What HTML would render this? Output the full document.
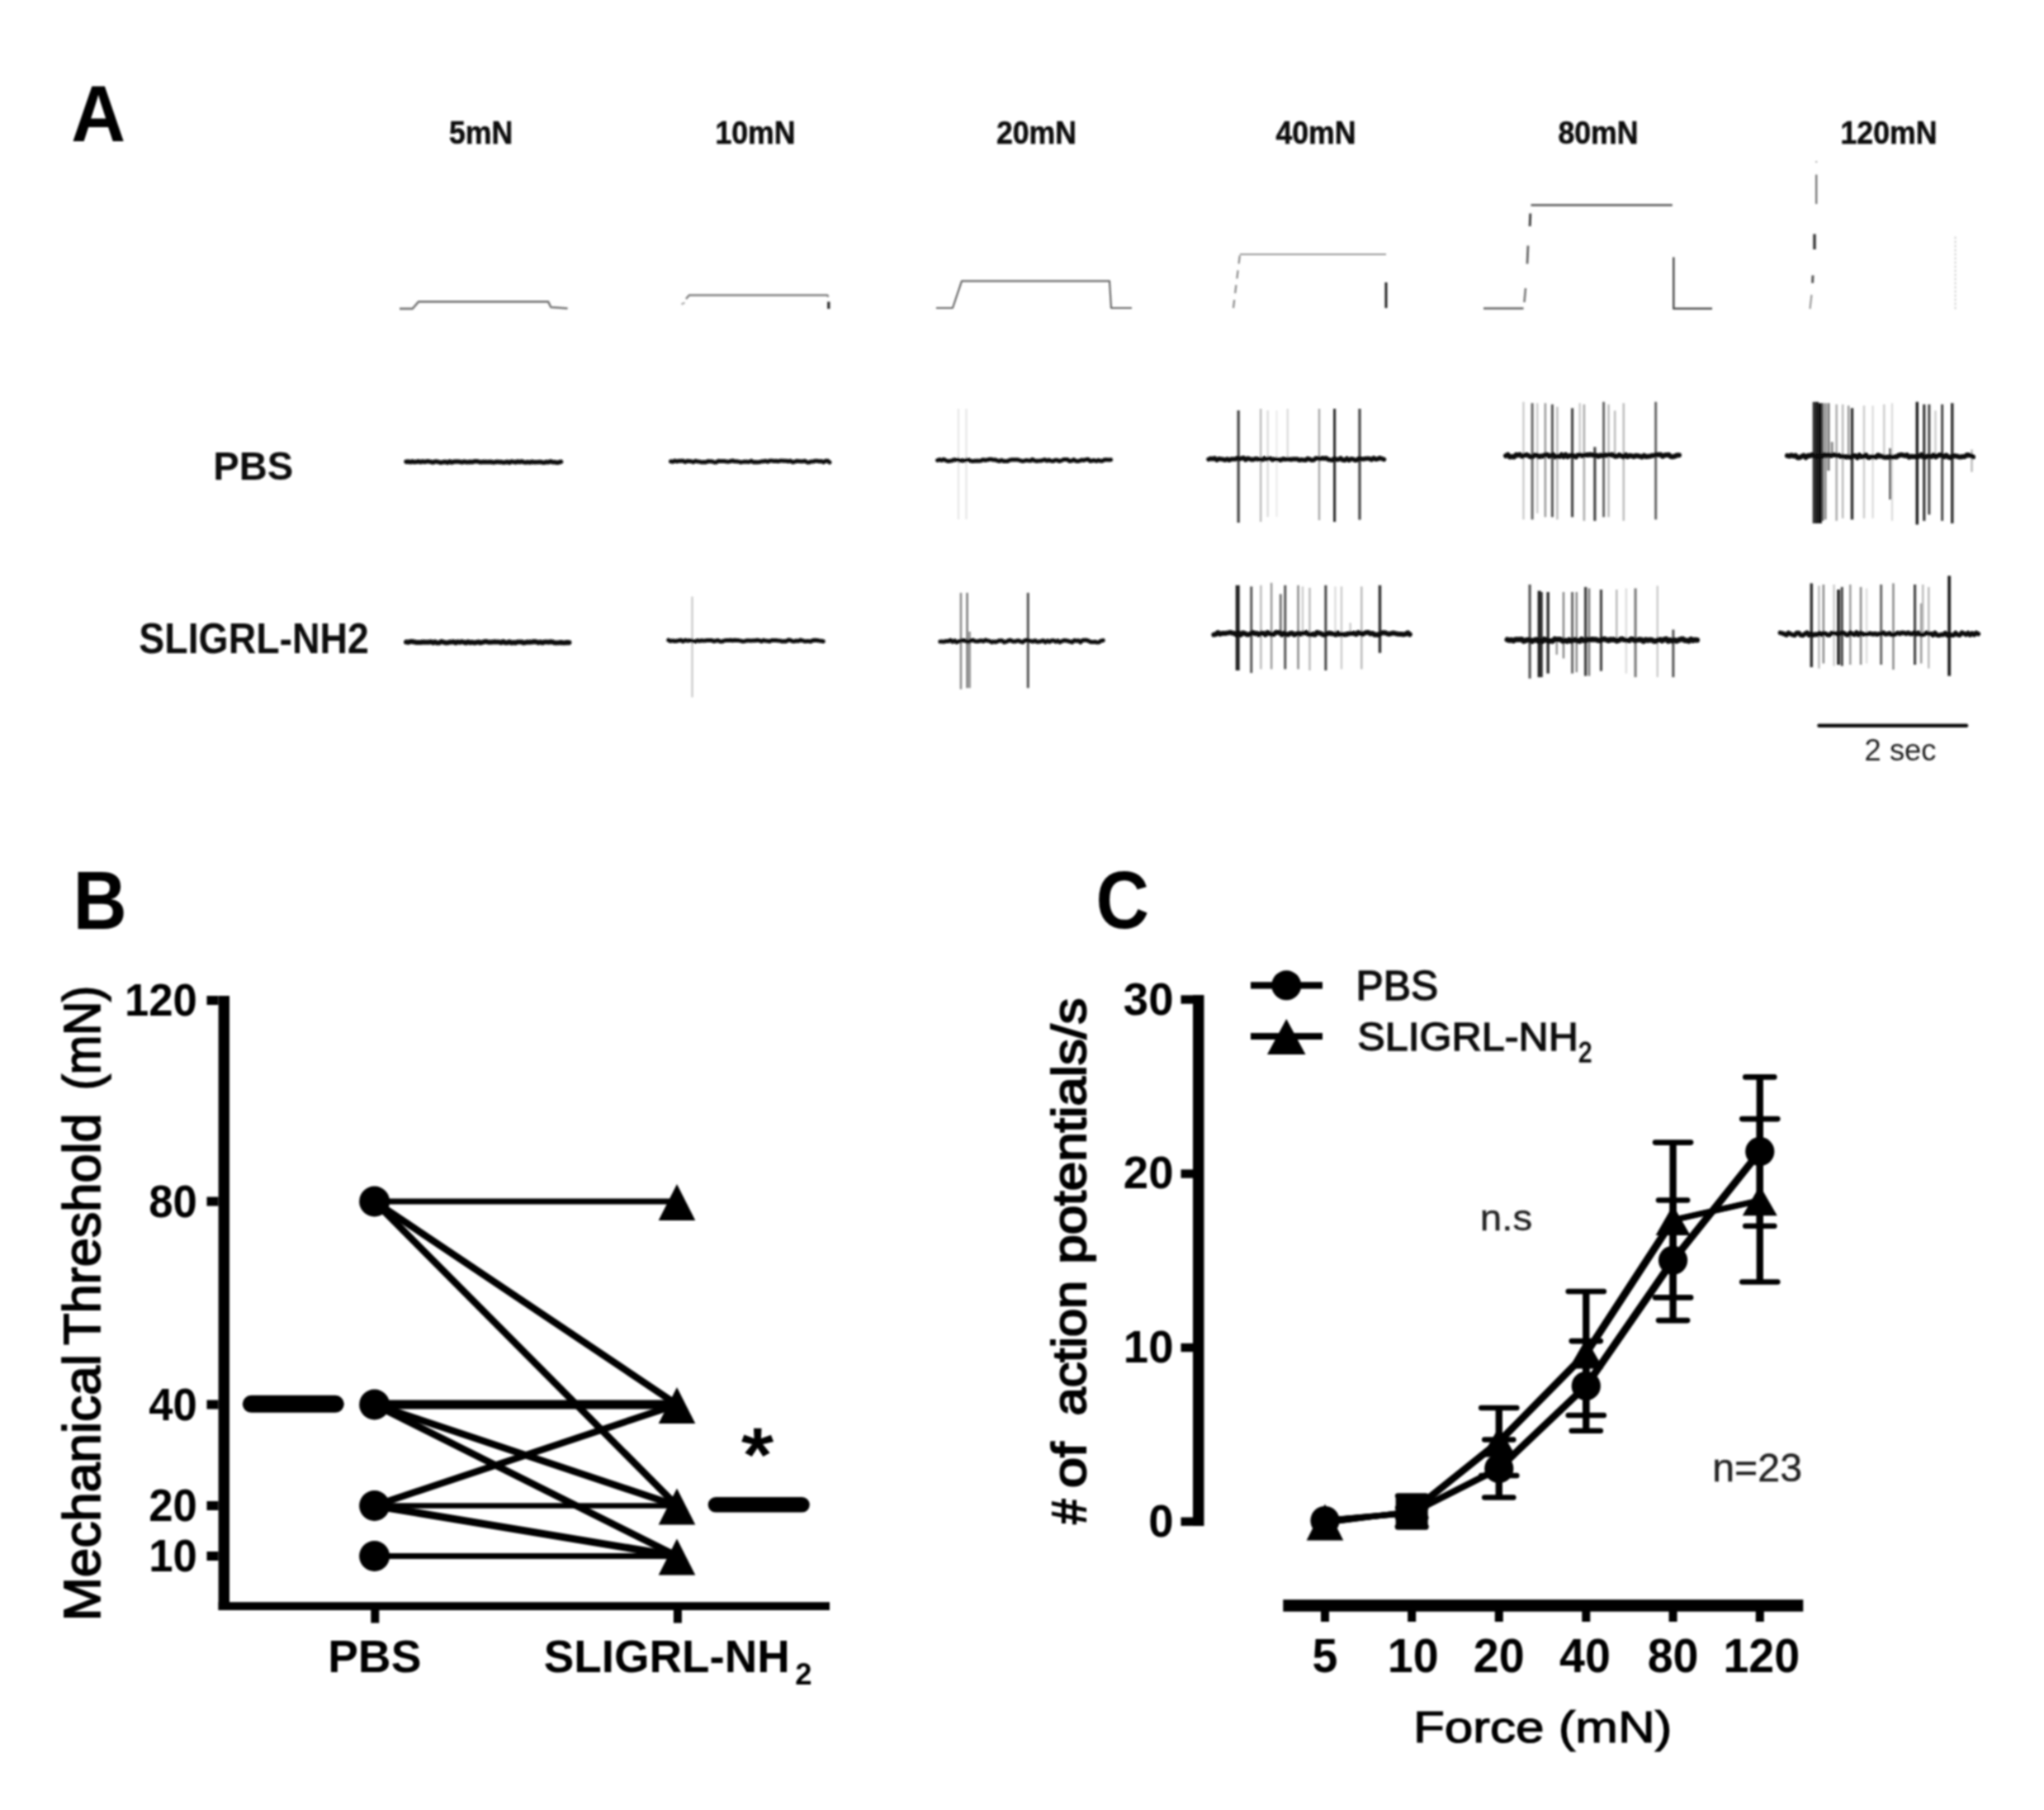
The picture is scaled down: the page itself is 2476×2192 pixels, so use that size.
<!DOCTYPE html>
<html><head><meta charset="utf-8"><title>Figure</title>
<style>html,body{margin:0;padding:0;background:#fff}svg{display:block}text{font-family:"Liberation Sans",Arial,sans-serif}</style>
</head><body>
<svg width="2476" height="2192" viewBox="0 0 2476 2192">
<defs><filter id="soft" x="0" y="0" width="2476" height="2192" filterUnits="userSpaceOnUse"><feGaussianBlur stdDeviation="1.3"/></filter></defs>
<rect width="2476" height="2192" fill="#fff"/>
<g filter="url(#soft)">
<text transform="translate(86.37,171.25) scale(0.9499,1)" font-size="96.00" font-weight="bold" fill="#000" >A</text>
<text transform="translate(543.98,173.56) scale(0.9088,1)" font-size="39.28" font-weight="bold" fill="#111" stroke="#111" stroke-width="0.6" >5mN</text>
<text transform="translate(915.00,173.56) scale(0.9088,1)" font-size="39.28" font-weight="bold" text-anchor="middle" fill="#111" stroke="#111" stroke-width="0.6">10mN</text>
<text transform="translate(1255.50,173.56) scale(0.9088,1)" font-size="39.28" font-weight="bold" text-anchor="middle" fill="#111" stroke="#111" stroke-width="0.6">20mN</text>
<text transform="translate(1594.00,173.56) scale(0.9088,1)" font-size="39.28" font-weight="bold" text-anchor="middle" fill="#111" stroke="#111" stroke-width="0.6">40mN</text>
<text transform="translate(1936.00,173.56) scale(0.9088,1)" font-size="39.28" font-weight="bold" text-anchor="middle" fill="#111" stroke="#111" stroke-width="0.6">80mN</text>
<text transform="translate(2288.00,173.56) scale(0.9088,1)" font-size="39.28" font-weight="bold" text-anchor="middle" fill="#111" stroke="#111" stroke-width="0.6">120mN</text>
<text transform="translate(258.17,581.17) scale(0.9789,1)" font-size="48.20" font-weight="bold" fill="#111" >PBS</text>
<text transform="translate(168.36,790.94) scale(0.9020,1)" font-size="51.45" font-weight="bold" fill="#111" >SLIGRL-NH2</text>
<text transform="translate(2258.53,921.09) scale(1.0063,1)" font-size="36.18" font-weight="normal" fill="#222" >2 sec</text>
<line x1="2203.5" y1="878.8" x2="2382" y2="878.8" stroke="#111" stroke-width="4.5" stroke-linecap="round"/>
<polyline points="484.0,373.9 499.7,373.9 507.0,365.4 664.1,365.4 667.3,372.0 687.6,373.5" fill="none" stroke="#777" stroke-width="2.6" stroke-linejoin="round"/>
<polyline points="825.4,368.5 829.5,366.5" fill="none" stroke="#aaa" stroke-width="2" stroke-linejoin="round"/>
<polyline points="831.0,362.0 834.8,357.6 1002.3,357.6 1003.5,359.5" fill="none" stroke="#808080" stroke-width="2.5" stroke-linejoin="round"/>
<polyline points="1003.8,365.4 1003.8,374.0" fill="none" stroke="#333" stroke-width="3.4" stroke-linejoin="round"/>
<polyline points="1134.0,373.0 1154.0,373.0 1165.0,340.3 1344.0,340.3 1346.0,373.0 1371.0,373.0" fill="none" stroke="#666" stroke-width="2.2" stroke-linejoin="round"/>
<polyline points="1494.0,373.0 1502.0,308.0" fill="none" stroke="#888" stroke-width="2.2" stroke-dasharray="10 8" stroke-linejoin="round"/>
<polyline points="1502.0,308.0 1679.0,308.0" fill="none" stroke="#999" stroke-width="2.2" stroke-linejoin="round"/>
<polyline points="1679.0,342.0 1679.0,373.0" fill="none" stroke="#222" stroke-width="3" stroke-linejoin="round"/>
<polyline points="1797.0,373.5 1845.5,373.5" fill="none" stroke="#666" stroke-width="2.6" stroke-linejoin="round"/>
<polyline points="1846.5,366.0 1848.0,349.0" fill="none" stroke="#777" stroke-width="2.6" stroke-linejoin="round"/>
<polyline points="1850.0,319.5 1851.0,297.5" fill="none" stroke="#666" stroke-width="2.8" stroke-linejoin="round"/>
<polyline points="1853.2,274.0 1853.8,258.5" fill="none" stroke="#444" stroke-width="3" stroke-linejoin="round"/>
<polyline points="1854.5,248.3 2025.8,248.3" fill="none" stroke="#666" stroke-width="2.8" stroke-linejoin="round"/>
<polyline points="2027.3,311.5 2027.3,373.8 2074.0,373.8" fill="none" stroke="#555" stroke-width="2.6" stroke-linejoin="round"/>
<polyline points="2200.2,195.0 2200.2,197.0" fill="none" stroke="#aaa" stroke-width="2" stroke-linejoin="round"/>
<polyline points="2200.2,211.5 2200.2,247.0" fill="none" stroke="#777" stroke-width="2.4" stroke-linejoin="round"/>
<polyline points="2198.0,283.5 2198.0,302.0" fill="none" stroke="#333" stroke-width="3.4" stroke-linejoin="round"/>
<polyline points="2196.0,333.5 2195.6,342.8" fill="none" stroke="#555" stroke-width="3" stroke-linejoin="round"/>
<polyline points="2194.5,357.0 2192.5,374.0" fill="none" stroke="#999" stroke-width="2.2" stroke-linejoin="round"/>
<polyline points="2368.6,286.5 2368.6,375.5" fill="none" stroke="#d4d4d4" stroke-width="2" stroke-dasharray="3 2" stroke-linejoin="round"/>
<polyline points="492.0,559.2 494.5,558.9 497.0,559.7 499.5,558.8 502.0,559.6 504.5,559.3 507.0,558.8 509.5,559.5 512.0,558.8 514.5,559.4 517.0,558.8 519.5,558.8 522.0,559.4 524.5,560.0 527.0,558.9 529.5,559.1 532.0,559.7 534.5,560.2 537.0,559.6 539.5,559.3 542.0,560.3 544.5,558.8 547.0,560.1 549.5,559.2 552.0,558.9 554.5,558.9 557.0,559.2 559.5,560.0 562.0,559.0 564.5,559.6 567.0,559.7 569.5,559.3 572.0,559.6 574.5,558.8 577.0,558.8 579.5,559.0 582.0,559.8 584.5,559.4 587.0,559.2 589.5,559.6 592.0,559.4 594.5,559.2 597.0,560.0 599.5,559.8 602.0,559.1 604.5,559.6 607.0,559.5 609.5,560.1 612.0,559.9 614.5,559.2 617.0,560.3 619.5,558.9 622.0,559.4 624.5,559.9 627.0,558.9 629.5,559.5 632.0,558.8 634.5,559.8 637.0,559.9 639.5,559.6 642.0,560.1 644.5,559.2 647.0,559.8 649.5,559.7 652.0,559.6 654.5,559.4 657.0,560.0 659.5,560.2 662.0,559.5 664.5,559.8 667.0,558.8 669.5,559.8 672.0,559.7 674.5,560.3 677.0,560.0 679.5,559.2" fill="none" stroke="#111" stroke-width="5.5" stroke-linecap="round" stroke-linejoin="round"/>
<polyline points="812.5,558.8 815.0,559.3 817.5,558.0 820.0,558.9 822.5,558.3 825.0,558.2 827.5,558.1 830.0,559.5 832.5,558.3 835.0,558.5 837.5,558.8 840.0,559.7 842.5,558.2 845.0,558.9 847.5,559.1 850.0,559.8 852.5,559.6 855.0,559.7 857.5,558.6 860.0,558.8 862.5,558.7 865.0,559.8 867.5,559.9 870.0,558.3 872.5,558.4 875.0,558.5 877.5,558.5 880.0,559.0 882.5,559.2 885.0,558.5 887.5,558.0 890.0,558.8 892.5,558.7 895.0,559.1 897.5,559.9 900.0,559.4 902.5,559.0 905.0,559.2 907.5,559.4 910.0,558.1 912.5,559.8 915.0,559.6 917.5,559.7 920.0,559.6 922.5,558.8 925.0,558.8 927.5,558.2 930.0,559.3 932.5,558.1 935.0,558.1 937.5,558.4 940.0,558.3 942.5,558.7 945.0,558.1 947.5,558.0 950.0,558.3 952.5,558.2 955.0,558.7 957.5,558.1 960.0,559.7 962.5,559.2 965.0,558.3 967.5,558.5 970.0,558.7 972.5,558.7 975.0,558.2 977.5,559.7 980.0,560.0 982.5,558.9 985.0,559.0 987.5,558.2 990.0,558.2 992.5,558.7 995.0,558.5 997.5,559.7 1000.0,558.3 1002.5,558.0 1005.0,559.9" fill="none" stroke="#111" stroke-width="5" stroke-linecap="round" stroke-linejoin="round"/>
<line x1="1161" y1="495" x2="1161" y2="629" stroke="#e8e8e8" stroke-width="2.5"/>
<line x1="1170.5" y1="495" x2="1170.5" y2="629" stroke="#e8e8e8" stroke-width="2.5"/>
<polyline points="1135.6,557.5 1138.1,556.6 1140.6,557.5 1143.1,556.3 1145.6,557.5 1148.1,558.5 1150.6,558.3 1153.1,557.9 1155.6,556.8 1158.1,557.1 1160.6,556.6 1163.1,558.1 1165.6,557.5 1168.1,558.1 1170.6,557.0 1173.1,556.7 1175.6,558.1 1178.1,558.6 1180.6,558.2 1183.1,558.1 1185.6,558.2 1188.1,558.0 1190.6,556.7 1193.1,557.4 1195.6,557.1 1198.1,556.3 1200.6,556.3 1203.1,556.9 1205.6,556.8 1208.1,557.9 1210.6,558.5 1213.1,557.3 1215.6,558.4 1218.1,558.6 1220.6,558.5 1223.1,557.1 1225.6,556.7 1228.1,556.7 1230.6,556.7 1233.1,556.7 1235.6,557.7 1238.1,558.4 1240.6,558.2 1243.1,557.4 1245.6,557.8 1248.1,558.1 1250.6,556.4 1253.1,557.8 1255.6,558.4 1258.1,558.1 1260.6,558.0 1263.1,557.3 1265.6,556.6 1268.1,558.1 1270.6,557.0 1273.1,558.1 1275.6,558.5 1278.1,557.2 1280.6,557.2 1283.1,558.5 1285.6,557.9 1288.1,556.6 1290.6,556.5 1293.1,556.6 1295.6,558.4 1298.1,558.1 1300.6,556.6 1303.1,558.2 1305.6,558.6 1308.1,557.8 1310.6,557.0 1313.1,557.5 1315.6,556.5 1318.1,556.2 1320.6,558.5 1323.1,557.8 1325.6,557.5 1328.1,558.4 1330.6,557.2 1333.1,558.3 1335.6,558.2 1338.1,556.7 1340.6,556.8 1343.1,556.9 1345.6,556.8" fill="none" stroke="#111" stroke-width="5" stroke-linecap="round" stroke-linejoin="round"/>
<line x1="1500.2" y1="497" x2="1500.2" y2="633" stroke="#444" stroke-width="3.2"/>
<line x1="1527.2" y1="495" x2="1527.2" y2="632" stroke="#bbb" stroke-width="2.5"/>
<line x1="1535.7" y1="497" x2="1535.7" y2="626" stroke="#ddd" stroke-width="2.5"/>
<line x1="1546.5" y1="497" x2="1546.5" y2="626" stroke="#eee" stroke-width="2.5"/>
<line x1="1559.8" y1="495" x2="1559.8" y2="556" stroke="#ddd" stroke-width="2.5"/>
<line x1="1598" y1="495" x2="1598" y2="630" stroke="#aaa" stroke-width="2.5"/>
<line x1="1616.6" y1="495" x2="1616.6" y2="632" stroke="#333" stroke-width="3.2"/>
<line x1="1647" y1="495" x2="1647" y2="629.5" stroke="#444" stroke-width="3.2"/>
<polyline points="1464.0,556.3 1466.5,555.3 1469.0,555.8 1471.5,554.9 1474.0,557.2 1476.5,555.6 1479.0,555.9 1481.5,556.3 1484.0,557.2 1486.5,555.8 1489.0,557.3 1491.5,556.0 1494.0,556.1 1496.5,556.1 1499.0,554.6 1501.5,555.8 1504.0,555.0 1506.5,554.5 1509.0,556.9 1511.5,555.0 1514.0,555.9 1516.5,556.7 1519.0,556.2 1521.5,555.5 1524.0,556.1 1526.5,556.2 1529.0,556.9 1531.5,554.8 1534.0,556.2 1536.5,555.2 1539.0,555.3 1541.5,556.8 1544.0,556.0 1546.5,556.2 1549.0,556.8 1551.5,557.2 1554.0,555.8 1556.5,556.3 1559.0,556.0 1561.5,556.0 1564.0,556.6 1566.5,555.9 1569.0,556.1 1571.5,555.9 1574.0,557.3 1576.5,556.6 1579.0,557.1 1581.5,557.3 1584.0,555.3 1586.5,556.2 1589.0,557.3 1591.5,557.0 1594.0,554.9 1596.5,554.9 1599.0,555.8 1601.5,554.7 1604.0,555.2 1606.5,554.7 1609.0,556.5 1611.5,556.9 1614.0,557.2 1616.5,555.0 1619.0,556.6 1621.5,556.5 1624.0,554.9 1626.5,557.1 1629.0,557.4 1631.5,555.2 1634.0,557.4 1636.5,555.7 1639.0,556.0 1641.5,557.5 1644.0,557.0 1646.5,555.0 1649.0,555.8 1651.5,556.0 1654.0,555.5 1656.5,555.1 1659.0,555.5 1661.5,556.7 1664.0,554.6 1666.5,556.2 1669.0,555.8 1671.5,554.6 1674.0,555.5 1676.5,556.4" fill="none" stroke="#111" stroke-width="5.5" stroke-linecap="round" stroke-linejoin="round"/>
<line x1="1845.5" y1="486.7" x2="1845.5" y2="629.2" stroke="#ccc" stroke-width="2.5"/>
<line x1="1856.1" y1="488.2" x2="1856.1" y2="629.2" stroke="#666" stroke-width="3"/>
<line x1="1862.2" y1="488.2" x2="1862.2" y2="621.7" stroke="#ccc" stroke-width="2.5"/>
<line x1="1871.9" y1="488.2" x2="1871.9" y2="626.2" stroke="#999" stroke-width="2.5"/>
<line x1="1880.4" y1="489.7" x2="1880.4" y2="626.2" stroke="#555" stroke-width="3"/>
<line x1="1886.4" y1="492.7" x2="1886.4" y2="629.2" stroke="#bbb" stroke-width="2.5"/>
<line x1="1904.6" y1="494.3" x2="1904.6" y2="626.2" stroke="#444" stroke-width="3.2"/>
<line x1="1913.7" y1="488.2" x2="1913.7" y2="554.9" stroke="#ccc" stroke-width="2.5"/>
<line x1="1918.9" y1="489.7" x2="1918.9" y2="630.8" stroke="#aaa" stroke-width="2.5"/>
<line x1="1931.9" y1="541.3" x2="1931.9" y2="630.8" stroke="#444" stroke-width="3.2"/>
<line x1="1942.6" y1="486.7" x2="1942.6" y2="626.2" stroke="#666" stroke-width="3"/>
<line x1="1948.6" y1="489.7" x2="1948.6" y2="626.2" stroke="#bbb" stroke-width="2.5"/>
<line x1="1956.2" y1="497.3" x2="1956.2" y2="551.9" stroke="#bbb" stroke-width="2.5"/>
<line x1="1966.8" y1="488.2" x2="1966.8" y2="630.8" stroke="#bbb" stroke-width="2.5"/>
<line x1="2005.7" y1="486.7" x2="2005.7" y2="629.2" stroke="#666" stroke-width="3"/>
<polyline points="1824.0,552.0 1826.5,550.6 1829.0,553.6 1831.5,552.9 1834.0,553.5 1836.5,550.7 1839.0,551.2 1841.5,550.5 1844.0,552.9 1846.5,551.3 1849.0,550.8 1851.5,551.8 1854.0,553.3 1856.5,553.0 1859.0,551.2 1861.5,550.9 1864.0,553.3 1866.5,552.2 1869.0,552.6 1871.5,550.7 1874.0,550.6 1876.5,552.6 1879.0,551.8 1881.5,550.6 1884.0,553.4 1886.5,552.4 1889.0,553.0 1891.5,550.7 1894.0,553.1 1896.5,550.6 1899.0,553.2 1901.5,551.9 1904.0,551.5 1906.5,552.2 1909.0,553.4 1911.5,551.3 1914.0,550.8 1916.5,552.1 1919.0,551.2 1921.5,550.8 1924.0,550.9 1926.5,550.6 1929.0,551.0 1931.5,551.4 1934.0,551.4 1936.5,552.8 1939.0,551.3 1941.5,552.0 1944.0,551.0 1946.5,551.5 1949.0,550.5 1951.5,551.2 1954.0,550.4 1956.5,552.7 1959.0,552.2 1961.5,551.0 1964.0,551.9 1966.5,553.4 1969.0,550.7 1971.5,553.0 1974.0,551.8 1976.5,552.0 1979.0,553.1 1981.5,551.7 1984.0,552.0 1986.5,552.6 1989.0,553.5 1991.5,551.5 1994.0,553.1 1996.5,552.7 1999.0,552.4 2001.5,551.7 2004.0,551.5 2006.5,550.6 2009.0,550.8 2011.5,550.6 2014.0,552.8 2016.5,551.2 2019.0,550.9 2021.5,550.7 2024.0,553.1 2026.5,553.2 2029.0,552.5 2031.5,551.3 2034.0,551.2" fill="none" stroke="#111" stroke-width="6" stroke-linecap="round" stroke-linejoin="round"/>
<line x1="2197.4" y1="486.7" x2="2197.4" y2="633.8" stroke="#333" stroke-width="3.5"/>
<line x1="2201.0" y1="486.7" x2="2201.0" y2="633.8" stroke="#222" stroke-width="4"/>
<line x1="2204.9" y1="488.2" x2="2204.9" y2="633.8" stroke="#111" stroke-width="4"/>
<line x1="2208.0" y1="488.2" x2="2208.0" y2="630.8" stroke="#555" stroke-width="2.4"/>
<line x1="2211.3" y1="488.2" x2="2211.3" y2="629.2" stroke="#777" stroke-width="2.2"/>
<line x1="2215.0" y1="488.2" x2="2215.0" y2="570.1" stroke="#777" stroke-width="3"/>
<line x1="2219.2" y1="535.2" x2="2219.2" y2="551.9" stroke="#888" stroke-width="3"/>
<line x1="2224.7" y1="489.7" x2="2224.7" y2="630.8" stroke="#aaa" stroke-width="2.5"/>
<line x1="2232.2" y1="489.7" x2="2232.2" y2="627.7" stroke="#bbb" stroke-width="2.5"/>
<line x1="2239.2" y1="491.2" x2="2239.2" y2="554.9" stroke="#999" stroke-width="2.5"/>
<line x1="2243.5" y1="494.3" x2="2243.5" y2="629.2" stroke="#333" stroke-width="3.5"/>
<line x1="2258.0" y1="491.2" x2="2258.0" y2="627.7" stroke="#ccc" stroke-width="2.5"/>
<line x1="2268.6" y1="491.2" x2="2268.6" y2="627.7" stroke="#ddd" stroke-width="2.5"/>
<line x1="2282.3" y1="489.7" x2="2282.3" y2="551.9" stroke="#ccc" stroke-width="2.5"/>
<line x1="2289.9" y1="542.8" x2="2289.9" y2="605.0" stroke="#444" stroke-width="3"/>
<line x1="2292.0" y1="488.2" x2="2292.0" y2="630.8" stroke="#ddd" stroke-width="2.5"/>
<line x1="2322.3" y1="486.7" x2="2322.3" y2="635.3" stroke="#222" stroke-width="3.5"/>
<line x1="2330.8" y1="489.7" x2="2330.8" y2="630.8" stroke="#333" stroke-width="3.2"/>
<line x1="2336.9" y1="489.7" x2="2336.9" y2="623.2" stroke="#444" stroke-width="3"/>
<line x1="2344.5" y1="497.3" x2="2344.5" y2="551.9" stroke="#ccc" stroke-width="2.5"/>
<line x1="2352.7" y1="489.7" x2="2352.7" y2="630.8" stroke="#444" stroke-width="3"/>
<line x1="2364.8" y1="488.2" x2="2364.8" y2="633.8" stroke="#333" stroke-width="3.5"/>
<line x1="2388.5" y1="544.3" x2="2388.5" y2="571.6" stroke="#bbb" stroke-width="2.5"/>
<polyline points="2165.0,551.8 2167.5,552.4 2170.0,551.3 2172.5,552.3 2175.0,551.6 2177.5,554.2 2180.0,554.2 2182.5,552.7 2185.0,551.6 2187.5,554.2 2190.0,551.8 2192.5,552.0 2195.0,550.7 2197.5,552.1 2200.0,552.4 2202.5,552.5 2205.0,551.4 2207.5,552.5 2210.0,550.7 2212.5,551.7 2215.0,551.0 2217.5,552.1 2220.0,550.9 2222.5,550.8 2225.0,551.8 2227.5,551.5 2230.0,552.8 2232.5,552.6 2235.0,553.4 2237.5,553.1 2240.0,553.3 2242.5,553.9 2245.0,552.1 2247.5,551.9 2250.0,554.2 2252.5,551.2 2255.0,553.3 2257.5,553.0 2260.0,550.9 2262.5,553.7 2265.0,553.9 2267.5,553.0 2270.0,553.3 2272.5,553.6 2275.0,551.2 2277.5,552.6 2280.0,552.5 2282.5,553.7 2285.0,553.6 2287.5,553.7 2290.0,552.8 2292.5,553.9 2295.0,553.2 2297.5,553.2 2300.0,551.5 2302.5,550.8 2305.0,551.2 2307.5,552.0 2310.0,551.1 2312.5,553.7 2315.0,552.7 2317.5,553.0 2320.0,553.0 2322.5,553.2 2325.0,552.5 2327.5,550.7 2330.0,553.6 2332.5,553.4 2335.0,552.5 2337.5,552.6 2340.0,553.1 2342.5,550.9 2345.0,553.4 2347.5,551.6 2350.0,551.0 2352.5,551.7 2355.0,553.3 2357.5,551.4 2360.0,553.4 2362.5,554.2 2365.0,552.5 2367.5,552.1 2370.0,552.4 2372.5,553.2 2375.0,553.5 2377.5,552.9 2380.0,553.0 2382.5,551.0 2385.0,551.2 2387.5,551.6 2390.0,553.4" fill="none" stroke="#111" stroke-width="6" stroke-linecap="round" stroke-linejoin="round"/>
<polyline points="492.0,777.5 494.5,777.9 497.0,777.0 499.5,777.1 502.0,777.4 504.5,778.1 507.0,778.1 509.5,778.1 512.0,777.5 514.5,777.8 517.0,777.7 519.5,777.7 522.0,777.2 524.5,778.4 527.0,777.3 529.5,778.6 532.0,778.5 534.5,777.0 537.0,777.7 539.5,778.3 542.0,778.5 544.5,777.7 547.0,777.4 549.5,777.3 552.0,778.5 554.5,777.3 557.0,777.9 559.5,777.2 562.0,777.8 564.5,778.5 567.0,777.2 569.5,778.3 572.0,777.8 574.5,778.4 577.0,778.1 579.5,777.4 582.0,778.4 584.5,777.8 587.0,777.0 589.5,777.0 592.0,777.8 594.5,777.7 597.0,777.5 599.5,777.2 602.0,777.6 604.5,777.5 607.0,778.3 609.5,777.0 612.0,778.2 614.5,778.3 617.0,777.2 619.5,778.5 622.0,778.1 624.5,778.4 627.0,777.5 629.5,777.6 632.0,777.6 634.5,778.6 637.0,777.9 639.5,777.6 642.0,777.7 644.5,777.4 647.0,777.1 649.5,777.2 652.0,778.3 654.5,777.5 657.0,778.5 659.5,777.4 662.0,777.4 664.5,777.8 667.0,777.3 669.5,777.6 672.0,778.5 674.5,778.4 677.0,778.3 679.5,778.0 682.0,778.5 684.5,778.5 687.0,777.9 689.5,778.2" fill="none" stroke="#111" stroke-width="6" stroke-linecap="round" stroke-linejoin="round"/>
<line x1="838.5" y1="722.5" x2="838.5" y2="844.4" stroke="#ccc" stroke-width="2.5"/>
<polyline points="809.8,775.2 812.3,776.4 814.8,775.9 817.3,776.5 819.8,776.3 822.3,775.6 824.8,775.2 827.3,776.8 829.8,775.3 832.3,775.9 834.8,775.7 837.3,775.6 839.8,776.4 842.3,776.9 844.8,775.6 847.3,776.3 849.8,775.6 852.3,776.1 854.8,775.8 857.3,775.4 859.8,775.4 862.3,775.5 864.8,776.7 867.3,776.0 869.8,775.5 872.3,776.7 874.8,776.9 877.3,775.9 879.8,775.4 882.3,775.4 884.8,775.3 887.3,775.7 889.8,775.3 892.3,775.5 894.8,775.6 897.3,776.1 899.8,776.7 902.3,776.4 904.8,775.8 907.3,775.8 909.8,776.0 912.3,775.8 914.8,775.7 917.3,775.2 919.8,775.6 922.3,776.8 924.8,775.3 927.3,776.0 929.8,776.2 932.3,776.7 934.8,775.5 937.3,775.6 939.8,775.5 942.3,775.8 944.8,775.9 947.3,776.8 949.8,776.6 952.3,776.7 954.8,775.1 957.3,775.2 959.8,776.4 962.3,776.7 964.8,776.0 967.3,776.2 969.8,775.1 972.3,775.8 974.8,776.8 977.3,776.6 979.8,776.6 982.3,776.9 984.8,775.5 987.3,775.3 989.8,775.4 992.3,776.0 994.8,776.3 997.3,776.8" fill="none" stroke="#111" stroke-width="5" stroke-linecap="round" stroke-linejoin="round"/>
<line x1="1164.0" y1="717.9" x2="1164.0" y2="834.7" stroke="#888" stroke-width="2.5"/>
<line x1="1171.6" y1="717.9" x2="1171.6" y2="833.2" stroke="#777" stroke-width="2.5"/>
<line x1="1174.6" y1="764.9" x2="1174.6" y2="833.2" stroke="#888" stroke-width="2.5"/>
<line x1="1245.3" y1="717.9" x2="1245.3" y2="833.2" stroke="#555" stroke-width="3"/>
<polyline points="1138.8,777.1 1141.3,776.9 1143.8,777.2 1146.3,776.4 1148.8,776.6 1151.3,775.2 1153.8,777.3 1156.3,775.8 1158.8,777.7 1161.3,776.9 1163.8,776.0 1166.3,775.5 1168.8,775.8 1171.3,776.9 1173.8,777.1 1176.3,775.4 1178.8,775.3 1181.3,776.6 1183.8,776.7 1186.3,776.2 1188.8,775.7 1191.3,776.8 1193.8,775.1 1196.3,775.9 1198.8,776.4 1201.3,777.8 1203.8,776.9 1206.3,777.6 1208.8,776.4 1211.3,775.8 1213.8,775.8 1216.3,777.8 1218.8,777.1 1221.3,776.0 1223.8,775.2 1226.3,776.5 1228.8,777.0 1231.3,776.3 1233.8,775.8 1236.3,777.0 1238.8,777.7 1241.3,775.7 1243.8,775.2 1246.3,776.0 1248.8,776.3 1251.3,777.0 1253.8,775.7 1256.3,777.3 1258.8,777.2 1261.3,776.5 1263.8,775.7 1266.3,777.8 1268.8,776.0 1271.3,777.4 1273.8,775.7 1276.3,775.7 1278.8,777.2 1281.3,775.9 1283.8,777.8 1286.3,776.5 1288.8,775.6 1291.3,775.7 1293.8,776.3 1296.3,777.0 1298.8,777.8 1301.3,775.5 1303.8,776.2 1306.3,775.7 1308.8,777.8 1311.3,775.5 1313.8,775.2 1316.3,775.3 1318.8,776.2 1321.3,777.6 1323.8,777.6 1326.3,777.2 1328.8,777.9 1331.3,777.7 1333.8,776.0 1336.3,775.6" fill="none" stroke="#111" stroke-width="5" stroke-linecap="round" stroke-linejoin="round"/>
<line x1="1499.2" y1="708.8" x2="1499.2" y2="811.9" stroke="#222" stroke-width="5"/>
<line x1="1515.8" y1="710.3" x2="1515.8" y2="815.0" stroke="#555" stroke-width="3"/>
<line x1="1527.4" y1="708.8" x2="1527.4" y2="810.4" stroke="#bbb" stroke-width="2.5"/>
<line x1="1540.1" y1="705.8" x2="1540.1" y2="810.4" stroke="#999" stroke-width="2.5"/>
<line x1="1551.3" y1="719.4" x2="1551.3" y2="768.0" stroke="#777" stroke-width="3"/>
<line x1="1556.8" y1="708.8" x2="1556.8" y2="810.4" stroke="#555" stroke-width="3"/>
<line x1="1572.6" y1="708.8" x2="1572.6" y2="810.4" stroke="#888" stroke-width="2.5"/>
<line x1="1578.0" y1="710.3" x2="1578.0" y2="771.0" stroke="#ccc" stroke-width="2.5"/>
<line x1="1586.5" y1="711.8" x2="1586.5" y2="811.9" stroke="#bbb" stroke-width="2.5"/>
<line x1="1605.9" y1="708.8" x2="1605.9" y2="811.9" stroke="#444" stroke-width="3"/>
<line x1="1617.5" y1="710.3" x2="1617.5" y2="768.0" stroke="#ddd" stroke-width="2.5"/>
<line x1="1625.0" y1="710.3" x2="1625.0" y2="810.4" stroke="#ccc" stroke-width="2.5"/>
<line x1="1635.7" y1="754.3" x2="1635.7" y2="766.4" stroke="#ccc" stroke-width="2.5"/>
<line x1="1649.3" y1="710.3" x2="1649.3" y2="810.4" stroke="#bbb" stroke-width="2.5"/>
<line x1="1671.5" y1="708.8" x2="1671.5" y2="790.7" stroke="#333" stroke-width="3.5"/>
<polyline points="1470.3,768.7 1472.8,768.1 1475.3,766.0 1477.8,767.9 1480.3,767.0 1482.8,767.0 1485.3,766.9 1487.8,766.4 1490.3,765.9 1492.8,766.7 1495.3,767.0 1497.8,768.8 1500.3,766.3 1502.8,768.8 1505.3,766.5 1507.8,767.0 1510.3,768.4 1512.8,768.4 1515.3,767.2 1517.8,766.0 1520.3,767.3 1522.8,767.0 1525.3,768.7 1527.8,766.5 1530.3,767.0 1532.8,768.6 1535.3,766.0 1537.8,767.1 1540.3,768.3 1542.8,768.2 1545.3,766.0 1547.8,766.0 1550.3,766.1 1552.8,768.7 1555.3,766.7 1557.8,768.1 1560.3,768.6 1562.8,766.9 1565.3,766.7 1567.8,768.8 1570.3,767.8 1572.8,766.7 1575.3,768.0 1577.8,766.8 1580.3,766.7 1582.8,765.9 1585.3,768.2 1587.8,768.6 1590.3,767.8 1592.8,768.7 1595.3,766.0 1597.8,766.6 1600.3,767.3 1602.8,768.8 1605.3,768.8 1607.8,767.1 1610.3,766.7 1612.8,767.2 1615.3,767.4 1617.8,768.7 1620.3,766.4 1622.8,768.3 1625.3,768.1 1627.8,768.4 1630.3,768.2 1632.8,767.7 1635.3,766.9 1637.8,766.9 1640.3,767.0 1642.8,768.2 1645.3,766.1 1647.8,766.5 1650.3,768.2 1652.8,766.6 1655.3,766.1 1657.8,766.0 1660.3,767.6 1662.8,766.9 1665.3,768.8 1667.8,768.6 1670.3,768.9 1672.8,766.7 1675.3,766.2 1677.8,766.2 1680.3,767.4 1682.8,768.0 1685.3,767.2 1687.8,766.6 1690.3,767.2 1692.8,767.8 1695.3,767.9 1697.8,768.1 1700.3,768.4 1702.8,767.9 1705.3,766.3 1707.8,768.4" fill="none" stroke="#111" stroke-width="6" stroke-linecap="round" stroke-linejoin="round"/>
<line x1="1853.1" y1="707.9" x2="1853.1" y2="821.7" stroke="#555" stroke-width="3.2"/>
<line x1="1864.6" y1="715.5" x2="1864.6" y2="820.1" stroke="#222" stroke-width="4"/>
<line x1="1867.3" y1="717.0" x2="1867.3" y2="820.1" stroke="#333" stroke-width="3"/>
<line x1="1875.2" y1="717.0" x2="1875.2" y2="815.6" stroke="#333" stroke-width="3.5"/>
<line x1="1885.8" y1="776.2" x2="1885.8" y2="792.8" stroke="#999" stroke-width="2.5"/>
<line x1="1894.0" y1="717.0" x2="1894.0" y2="797.4" stroke="#888" stroke-width="2.5"/>
<line x1="1904.6" y1="717.0" x2="1904.6" y2="815.6" stroke="#666" stroke-width="3"/>
<line x1="1909.8" y1="717.0" x2="1909.8" y2="814.1" stroke="#888" stroke-width="2.5"/>
<line x1="1920.7" y1="710.9" x2="1920.7" y2="818.6" stroke="#444" stroke-width="3.5"/>
<line x1="1925.0" y1="712.5" x2="1925.0" y2="818.6" stroke="#777" stroke-width="2.5"/>
<line x1="1939.5" y1="714.0" x2="1939.5" y2="812.6" stroke="#444" stroke-width="3.2"/>
<line x1="1958.3" y1="714.0" x2="1958.3" y2="773.1" stroke="#bbb" stroke-width="2.5"/>
<line x1="1969.9" y1="712.5" x2="1969.9" y2="815.6" stroke="#ddd" stroke-width="2.5"/>
<line x1="1981.1" y1="712.5" x2="1981.1" y2="820.1" stroke="#777" stroke-width="3"/>
<line x1="2007.8" y1="709.4" x2="2007.8" y2="820.1" stroke="#ccc" stroke-width="2.5"/>
<line x1="2026.9" y1="762.5" x2="2026.9" y2="820.1" stroke="#555" stroke-width="3"/>
<polyline points="1825.8,774.7 1828.3,775.5 1830.8,774.9 1833.3,776.0 1835.8,774.4 1838.3,774.5 1840.8,774.5 1843.3,774.3 1845.8,776.5 1848.3,775.5 1850.8,774.8 1853.3,775.0 1855.8,776.8 1858.3,775.3 1860.8,774.5 1863.3,776.2 1865.8,775.8 1868.3,776.8 1870.8,774.1 1873.3,775.2 1875.8,776.3 1878.3,776.3 1880.8,776.5 1883.3,773.9 1885.8,774.7 1888.3,774.2 1890.8,774.4 1893.3,776.7 1895.8,775.5 1898.3,776.6 1900.8,774.9 1903.3,776.4 1905.8,775.1 1908.3,774.6 1910.8,776.1 1913.3,776.6 1915.8,774.1 1918.3,775.6 1920.8,775.7 1923.3,774.5 1925.8,774.9 1928.3,774.2 1930.8,774.4 1933.3,774.6 1935.8,775.6 1938.3,775.8 1940.8,774.4 1943.3,773.8 1945.8,774.8 1948.3,775.8 1950.8,774.4 1953.3,774.7 1955.8,774.4 1958.3,776.2 1960.8,775.4 1963.3,774.0 1965.8,774.1 1968.3,775.0 1970.8,775.5 1973.3,775.7 1975.8,774.1 1978.3,774.3 1980.8,775.9 1983.3,775.0 1985.8,774.6 1988.3,774.7 1990.8,776.7 1993.3,774.7 1995.8,775.5 1998.3,774.9 2000.8,775.0 2003.3,776.4 2005.8,776.8 2008.3,774.9 2010.8,774.4 2013.3,776.0 2015.8,774.4 2018.3,773.8 2020.8,776.5 2023.3,775.1 2025.8,776.3 2028.3,775.0 2030.8,776.4 2033.3,775.2 2035.8,774.3 2038.3,773.8 2040.8,775.5 2043.3,775.7 2045.8,776.5 2048.3,774.1 2050.8,775.7 2053.3,774.9 2055.8,775.3" fill="none" stroke="#111" stroke-width="6.5" stroke-linecap="round" stroke-linejoin="round"/>
<line x1="2194.3" y1="706.4" x2="2194.3" y2="808.0" stroke="#333" stroke-width="3.5"/>
<line x1="2203.4" y1="709.4" x2="2203.4" y2="809.5" stroke="#bbb" stroke-width="2.5"/>
<line x1="2208.9" y1="707.9" x2="2208.9" y2="803.5" stroke="#888" stroke-width="2.5"/>
<line x1="2221.6" y1="707.9" x2="2221.6" y2="806.5" stroke="#ccc" stroke-width="2.5"/>
<line x1="2227.1" y1="714.0" x2="2227.1" y2="805.0" stroke="#333" stroke-width="4"/>
<line x1="2231.3" y1="710.9" x2="2231.3" y2="806.5" stroke="#444" stroke-width="3"/>
<line x1="2241.3" y1="707.9" x2="2241.3" y2="805.0" stroke="#999" stroke-width="2.5"/>
<line x1="2254.1" y1="710.9" x2="2254.1" y2="805.0" stroke="#888" stroke-width="2.5"/>
<line x1="2261.1" y1="712.5" x2="2261.1" y2="803.5" stroke="#ddd" stroke-width="2.5"/>
<line x1="2278.7" y1="707.9" x2="2278.7" y2="805.0" stroke="#666" stroke-width="3"/>
<line x1="2293.5" y1="706.4" x2="2293.5" y2="811.0" stroke="#888" stroke-width="2.5"/>
<line x1="2319.6" y1="707.9" x2="2319.6" y2="805.0" stroke="#444" stroke-width="3.2"/>
<line x1="2327.2" y1="730.7" x2="2327.2" y2="803.5" stroke="#999" stroke-width="2.5"/>
<line x1="2329.3" y1="707.9" x2="2329.3" y2="770.1" stroke="#bbb" stroke-width="2.5"/>
<line x1="2336.3" y1="710.9" x2="2336.3" y2="809.5" stroke="#bbb" stroke-width="2.5"/>
<line x1="2361.2" y1="697.3" x2="2361.2" y2="818.6" stroke="#222" stroke-width="3.8"/>
<polyline points="2156.4,766.4 2158.9,766.9 2161.4,767.8 2163.9,769.2 2166.4,766.3 2168.9,767.7 2171.4,768.8 2173.9,769.4 2176.4,766.6 2178.9,766.4 2181.4,769.3 2183.9,769.4 2186.4,767.6 2188.9,766.1 2191.4,769.2 2193.9,767.3 2196.4,769.2 2198.9,768.1 2201.4,768.9 2203.9,766.5 2206.4,768.7 2208.9,766.7 2211.4,767.4 2213.9,768.9 2216.4,768.9 2218.9,766.6 2221.4,766.7 2223.9,767.3 2226.4,767.8 2228.9,767.3 2231.4,766.3 2233.9,766.8 2236.4,768.5 2238.9,769.1 2241.4,766.0 2243.9,767.9 2246.4,768.6 2248.9,766.0 2251.4,768.9 2253.9,766.3 2256.4,768.1 2258.9,767.9 2261.4,768.2 2263.9,767.0 2266.4,767.4 2268.9,768.0 2271.4,767.4 2273.9,768.3 2276.4,767.5 2278.9,767.5 2281.4,766.0 2283.9,768.1 2286.4,767.7 2288.9,766.7 2291.4,768.6 2293.9,768.7 2296.4,767.5 2298.9,766.5 2301.4,767.6 2303.9,766.3 2306.4,766.4 2308.9,767.5 2311.4,766.2 2313.9,767.5 2316.4,767.7 2318.9,766.0 2321.4,768.2 2323.9,766.2 2326.4,768.5 2328.9,768.7 2331.4,767.7 2333.9,766.1 2336.4,767.7 2338.9,767.3 2341.4,769.3 2343.9,766.4 2346.4,769.0 2348.9,769.5 2351.4,768.5 2353.9,768.8 2356.4,766.6 2358.9,769.4 2361.4,767.7 2363.9,769.3 2366.4,769.2 2368.9,766.5 2371.4,768.7 2373.9,769.3 2376.4,766.1 2378.9,767.2 2381.4,768.6 2383.9,766.5 2386.4,769.1 2388.9,766.9 2391.4,768.8 2393.9,766.4 2396.4,767.7" fill="none" stroke="#111" stroke-width="5.5" stroke-linecap="round" stroke-linejoin="round"/>
<text transform="translate(88.44,1124.65) scale(0.9029,1)" font-size="100.22" font-weight="bold" fill="#000" >B</text>
<rect x="264.6" y="1206" width="13.4" height="744" fill="#000"/>
<rect x="264.6" y="1940.2" width="740.4" height="9.8" fill="#000"/>
<text transform="translate(150.96,1230.05) scale(0.9637,1)" font-size="54.70" font-weight="bold" fill="#000" >120</text>
<rect x="250.5" y="1206.0" width="14" height="11" fill="#000"/>
<rect x="250.5" y="1449.5" width="14" height="11" fill="#000"/>
<text transform="translate(238.91,1473.55) scale(0.9637,1)" font-size="54.70" font-weight="bold" text-anchor="end" fill="#000">80</text>
<rect x="250.5" y="1695.5" width="14" height="11" fill="#000"/>
<text transform="translate(238.91,1719.55) scale(0.9637,1)" font-size="54.70" font-weight="bold" text-anchor="end" fill="#000">40</text>
<rect x="250.5" y="1818.0" width="14" height="11" fill="#000"/>
<text transform="translate(238.91,1842.05) scale(0.9637,1)" font-size="54.70" font-weight="bold" text-anchor="end" fill="#000">20</text>
<rect x="250.5" y="1879.0" width="14" height="11" fill="#000"/>
<text transform="translate(238.91,1903.05) scale(0.9637,1)" font-size="54.70" font-weight="bold" text-anchor="end" fill="#000">10</text>
<rect x="449.3" y="1949" width="10" height="16.5" fill="#000"/>
<rect x="815.9" y="1949" width="10" height="16.5" fill="#000"/>
<text transform="translate(397.13,2024.99) scale(0.9890,1)" font-size="55.69" font-weight="bold" fill="#000" >PBS</text>
<text transform="translate(658.81,2024.99) scale(0.9829,1)" font-size="55.69" font-weight="bold" fill="#000" >SLIGRL-NH</text>
<text transform="translate(963.17,2039.65) scale(0.9706,1)" font-size="37.56" font-weight="bold" fill="#000" >2</text>
<line x1="453.6" y1="1455" x2="820" y2="1455" stroke="#000" stroke-width="7"/>
<line x1="453.6" y1="1455" x2="820" y2="1701" stroke="#000" stroke-width="8.5"/>
<line x1="453.6" y1="1455" x2="820" y2="1823.5" stroke="#000" stroke-width="8.5"/>
<line x1="453.6" y1="1701" x2="820" y2="1701" stroke="#000" stroke-width="11"/>
<line x1="453.6" y1="1701" x2="820" y2="1823.5" stroke="#000" stroke-width="8.5"/>
<line x1="453.6" y1="1701" x2="820" y2="1884.5" stroke="#000" stroke-width="8.5"/>
<line x1="453.6" y1="1823.5" x2="820" y2="1701" stroke="#000" stroke-width="8.3"/>
<line x1="453.6" y1="1823.5" x2="820" y2="1823.5" stroke="#000" stroke-width="6.3"/>
<line x1="453.6" y1="1823.5" x2="820" y2="1884.5" stroke="#000" stroke-width="9"/>
<line x1="453.6" y1="1884.5" x2="820" y2="1884.5" stroke="#000" stroke-width="7"/>
<circle cx="453.6" cy="1455" r="18.5" fill="#000"/>
<polygon points="820,1434 842.3,1478 797.7,1478" fill="#000"/>
<circle cx="453.6" cy="1701" r="18.5" fill="#000"/>
<polygon points="820,1680 842.3,1724 797.7,1724" fill="#000"/>
<circle cx="453.6" cy="1823.5" r="18.5" fill="#000"/>
<polygon points="820,1802.5 842.3,1846.5 797.7,1846.5" fill="#000"/>
<circle cx="453.6" cy="1884.5" r="18.5" fill="#000"/>
<polygon points="820,1863.5 842.3,1907.5 797.7,1907.5" fill="#000"/>
<line x1="304.3" y1="1700.3" x2="406.3" y2="1700.3" stroke="#000" stroke-width="21" stroke-linecap="round"/>
<line x1="867" y1="1822.3" x2="971.5" y2="1822.3" stroke="#000" stroke-width="18.6" stroke-linecap="round"/>
<text transform="translate(898.58,1792.48) scale(1.0958,1)" font-size="89.71" font-weight="normal" fill="#000" stroke="#000" stroke-width="2.6" >*</text>
<text transform="translate(1327.57,1124.16) scale(0.9055,1)" font-size="98.80" font-weight="bold" fill="#000" >C</text>
<rect x="1445" y="1205" width="13.5" height="643" fill="#000"/>
<text transform="translate(1360.84,1439.20) scale(0.9903,1)" font-size="55.12" font-weight="bold" fill="#000" >20</text>
<rect x="1430.5" y="1205.3" width="15.5" height="10.4" fill="#000"/>
<text transform="translate(1421.56,1228.80) scale(0.9903,1)" font-size="55.12" font-weight="bold" text-anchor="end" fill="#000">30</text>
<rect x="1430.5" y="1416.3" width="15.5" height="10.4" fill="#000"/>
<rect x="1430.5" y="1626.8" width="15.5" height="10.4" fill="#000"/>
<text transform="translate(1421.56,1650.30) scale(0.9903,1)" font-size="55.12" font-weight="bold" text-anchor="end" fill="#000">10</text>
<rect x="1430.5" y="1837.5" width="15.5" height="10.4" fill="#000"/>
<text transform="translate(1421.56,1861.00) scale(0.9903,1)" font-size="55.12" font-weight="bold" text-anchor="end" fill="#000">0</text>
<rect x="1554.3" y="1937.2" width="630" height="14.5" fill="#000"/>
<rect x="1600" y="1950" width="10" height="14" fill="#000"/>
<text transform="translate(1605.00,2024.50) scale(0.9850,1)" font-size="56.50" font-weight="bold" text-anchor="middle" fill="#000">5</text>
<rect x="1705.2" y="1950" width="10" height="14" fill="#000"/>
<text transform="translate(1711.80,2024.50) scale(0.9850,1)" font-size="56.50" font-weight="bold" text-anchor="middle" fill="#000">10</text>
<rect x="1810.8" y="1950" width="10" height="14" fill="#000"/>
<text transform="translate(1815.80,2024.50) scale(0.9850,1)" font-size="56.50" font-weight="bold" text-anchor="middle" fill="#000">20</text>
<rect x="1916.3" y="1950" width="10" height="14" fill="#000"/>
<text transform="translate(1920.05,2024.50) scale(0.9850,1)" font-size="56.50" font-weight="bold" text-anchor="middle" fill="#000">40</text>
<rect x="2021.6" y="1950" width="10" height="14" fill="#000"/>
<text transform="translate(2026.60,2024.50) scale(0.9850,1)" font-size="56.50" font-weight="bold" text-anchor="middle" fill="#000">80</text>
<rect x="2126.8" y="1950" width="10" height="14" fill="#000"/>
<text transform="translate(2133.80,2024.50) scale(0.9850,1)" font-size="56.50" font-weight="bold" text-anchor="middle" fill="#000">120</text>
<text transform="translate(1711.88,2110.40) scale(1.1562,1)" font-size="53.67" font-weight="normal" fill="#000" stroke="#000" stroke-width="1.2" >Force (mN)</text>
<text transform="translate(1314.6,1530.74) rotate(-90) scale(1.1076,1)" font-size="57.5" font-weight="normal" stroke="#000" stroke-width="2.1">potentials/s</text>
<text transform="translate(1314.6,1714.41) rotate(-90) scale(1.0666,1)" font-size="57.5" font-weight="normal" stroke="#000" stroke-width="2.1">action</text>
<text transform="translate(1314.6,1802.03) rotate(-90) scale(1.1565,1)" font-size="57.5" font-weight="normal" stroke="#000" stroke-width="2.1">of</text>
<text transform="translate(1314.6,1845.47) rotate(-90) scale(0.9275,1)" font-size="57.5" font-weight="normal" stroke="#000" stroke-width="2.1">#</text>
<text transform="translate(120.5,1963.37) rotate(-90) scale(1.0146,1)" font-size="63" font-weight="normal" stroke="#000" stroke-width="1.8">Mechanical</text>
<text transform="translate(120.5,1629.02) rotate(-90) scale(1.0019,1)" font-size="63" font-weight="normal" stroke="#000" stroke-width="1.8">Threshold</text>
<text transform="translate(120.5,1320.16) rotate(-90) scale(0.9031,1)" font-size="63" font-weight="normal" stroke="#000" stroke-width="1.8">(mN)</text>
<line x1="1515" y1="1193.4" x2="1602" y2="1193.4" stroke="#000" stroke-width="8.2"/>
<circle cx="1558.3" cy="1193.3" r="18" fill="#000"/>
<line x1="1515" y1="1255" x2="1602" y2="1255" stroke="#000" stroke-width="8.2"/>
<polygon points="1558.3,1234 1581.5,1277 1535,1277" fill="#000"/>
<text transform="translate(1642.44,1211.15) scale(1.0043,1)" font-size="49.61" font-weight="normal" fill="#111" stroke="#111" stroke-width="1.4" >PBS</text>
<text transform="translate(1644.29,1271.87) scale(1.0380,1)" font-size="48.34" font-weight="normal" fill="#111" stroke="#111" stroke-width="1.4" >SLIGRL-NH</text>
<text transform="translate(1912.08,1286.45) scale(0.8488,1)" font-size="34.70" font-weight="normal" fill="#111" stroke="#111" stroke-width="1.4" >2</text>
<text transform="translate(1792.74,1490.10) scale(1.0582,1)" font-size="44.93" font-weight="normal" fill="#222" stroke="#222" stroke-width="0.4" >n.s</text>
<text transform="translate(2074.19,1794.06) scale(0.9888,1)" font-size="48.90" font-weight="normal" fill="#222" stroke="#222" stroke-width="0.4" >n=23</text>
<line x1="1710.2" y1="1826" x2="1710.2" y2="1838" stroke="#000" stroke-width="8.3"/>
<line x1="1693.2" y1="1826" x2="1727.2" y2="1826" stroke="#000" stroke-width="6.6" stroke-linecap="round"/>
<line x1="1693.2" y1="1838" x2="1727.2" y2="1838" stroke="#000" stroke-width="6.6" stroke-linecap="round"/>
<line x1="1815.8" y1="1743.5" x2="1815.8" y2="1813.5" stroke="#000" stroke-width="8.3"/>
<line x1="1798.3" y1="1743.5" x2="1833.3" y2="1743.5" stroke="#000" stroke-width="6.6" stroke-linecap="round"/>
<line x1="1798.3" y1="1813.5" x2="1833.3" y2="1813.5" stroke="#000" stroke-width="6.6" stroke-linecap="round"/>
<line x1="1921.3" y1="1624.1000000000001" x2="1921.3" y2="1732.7" stroke="#000" stroke-width="8.3"/>
<line x1="1903.8" y1="1624.1000000000001" x2="1938.8" y2="1624.1000000000001" stroke="#000" stroke-width="6.6" stroke-linecap="round"/>
<line x1="1903.8" y1="1732.7" x2="1938.8" y2="1732.7" stroke="#000" stroke-width="6.6" stroke-linecap="round"/>
<line x1="2026.6" y1="1453.5" x2="2026.6" y2="1599.1" stroke="#000" stroke-width="8.3"/>
<line x1="2009.1" y1="1453.5" x2="2044.1" y2="1453.5" stroke="#000" stroke-width="6.6" stroke-linecap="round"/>
<line x1="2009.1" y1="1599.1" x2="2044.1" y2="1599.1" stroke="#000" stroke-width="6.6" stroke-linecap="round"/>
<line x1="2131.8" y1="1304.3999999999999" x2="2131.8" y2="1484.8" stroke="#000" stroke-width="8.3"/>
<line x1="2114.3" y1="1304.3999999999999" x2="2149.3" y2="1304.3999999999999" stroke="#000" stroke-width="6.6" stroke-linecap="round"/>
<line x1="2114.3" y1="1484.8" x2="2149.3" y2="1484.8" stroke="#000" stroke-width="6.6" stroke-linecap="round"/>
<polyline transform="translate(-1.4,0)" points="1605,1841.5 1710.2,1832 1815.8,1778.5 1921.3,1678.4 2026.6,1526.3 2131.8,1394.6" fill="none" stroke="#000" stroke-width="6.8" stroke-linejoin="round"/>
<polyline transform="translate(0,0)" points="1605,1841.5 1710.2,1832 1815.8,1778.5 1921.3,1678.4 2026.6,1526.3 2131.8,1394.6" fill="none" stroke="#000" stroke-width="6.8" stroke-linejoin="round"/>
<polyline transform="translate(1.4,0)" points="1605,1841.5 1710.2,1832 1815.8,1778.5 1921.3,1678.4 2026.6,1526.3 2131.8,1394.6" fill="none" stroke="#000" stroke-width="6.8" stroke-linejoin="round"/>
<circle cx="1605" cy="1841.5" r="17.6" fill="#000"/>
<circle cx="1710.2" cy="1832" r="17.6" fill="#000"/>
<circle cx="1815.8" cy="1778.5" r="17.6" fill="#000"/>
<circle cx="1921.3" cy="1678.4" r="17.6" fill="#000"/>
<circle cx="2026.6" cy="1526.3" r="17.6" fill="#000"/>
<circle cx="2131.8" cy="1394.6" r="17.6" fill="#000"/>
<line x1="1710.2" y1="1811.5" x2="1710.2" y2="1849.5" stroke="#000" stroke-width="8.3"/>
<line x1="1693.2" y1="1811.5" x2="1727.2" y2="1811.5" stroke="#000" stroke-width="6.6" stroke-linecap="round"/>
<line x1="1693.2" y1="1849.5" x2="1727.2" y2="1849.5" stroke="#000" stroke-width="6.6" stroke-linecap="round"/>
<line x1="1815.8" y1="1705" x2="1815.8" y2="1787" stroke="#000" stroke-width="8.3"/>
<line x1="1794.3" y1="1705" x2="1837.3" y2="1705" stroke="#000" stroke-width="6.6" stroke-linecap="round"/>
<line x1="1794.3" y1="1787" x2="1837.3" y2="1787" stroke="#000" stroke-width="6.6" stroke-linecap="round"/>
<line x1="1921.3" y1="1564" x2="1921.3" y2="1714" stroke="#000" stroke-width="8.3"/>
<line x1="1899.8" y1="1564" x2="1942.8" y2="1564" stroke="#000" stroke-width="6.6" stroke-linecap="round"/>
<line x1="1899.8" y1="1714" x2="1942.8" y2="1714" stroke="#000" stroke-width="6.6" stroke-linecap="round"/>
<line x1="2026.6" y1="1383.6" x2="2026.6" y2="1571.4" stroke="#000" stroke-width="8.3"/>
<line x1="2005.1" y1="1383.6" x2="2048.1" y2="1383.6" stroke="#000" stroke-width="6.6" stroke-linecap="round"/>
<line x1="2005.1" y1="1571.4" x2="2048.1" y2="1571.4" stroke="#000" stroke-width="6.6" stroke-linecap="round"/>
<line x1="2131.8" y1="1355.1" x2="2131.8" y2="1552.5" stroke="#000" stroke-width="8.3"/>
<line x1="2110.3" y1="1355.1" x2="2153.3" y2="1355.1" stroke="#000" stroke-width="6.6" stroke-linecap="round"/>
<line x1="2110.3" y1="1552.5" x2="2153.3" y2="1552.5" stroke="#000" stroke-width="6.6" stroke-linecap="round"/>
<polyline transform="translate(-1.4,0)" points="1605,1844 1710.2,1830.5 1815.8,1746 1921.3,1639 2026.6,1477.5 2131.8,1453.8" fill="none" stroke="#000" stroke-width="6.8" stroke-linejoin="round"/>
<polyline transform="translate(0,0)" points="1605,1844 1710.2,1830.5 1815.8,1746 1921.3,1639 2026.6,1477.5 2131.8,1453.8" fill="none" stroke="#000" stroke-width="6.8" stroke-linejoin="round"/>
<polyline transform="translate(1.4,0)" points="1605,1844 1710.2,1830.5 1815.8,1746 1921.3,1639 2026.6,1477.5 2131.8,1453.8" fill="none" stroke="#000" stroke-width="6.8" stroke-linejoin="round"/>
<polygon points="1605,1821.4 1627.3,1865.4 1582.7,1865.4" fill="#000"/>
<polygon points="1710.2,1812.5 1731.2,1849.0 1689.2,1849.0" fill="#000"/>
<rect x="1690.7" y="1811.5" width="39" height="39" rx="3" fill="#000"/>
<polygon points="1815.8,1728 1836.8,1764.5 1794.8,1764.5" fill="#000"/>
<polygon points="1921.3,1621 1942.3,1657.5 1900.3,1657.5" fill="#000"/>
<polygon points="2026.6,1459.5 2047.6,1496.0 2005.6,1496.0" fill="#000"/>
<polygon points="2131.8,1435.8 2152.8,1472.3 2110.8,1472.3" fill="#000"/>
</g>
</svg>
</body></html>
